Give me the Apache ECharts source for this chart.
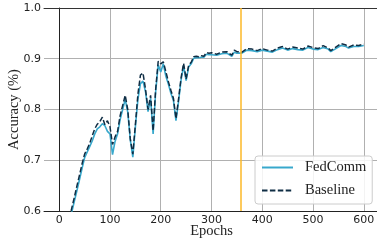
<!DOCTYPE html>
<html>
<head>
<meta charset="utf-8">
<script src="https://cdn.jsdelivr.net/npm/echarts@6/dist/echarts.min.js"></script>
<style>
  html, body { margin: 0; padding: 0; background: #fff; }
  #chart { width: 377px; height: 244px; }
</style>
</head>
<body>
<div id="chart"></div>
<script>
// values
const epochs = [20, 25, 30, 35, 40, 45, 50, 55, 60, 65, 70, 75, 80, 85, 90, 95, 100,
    105, 110, 115, 120, 125, 130, 135, 140, 145, 150, 155, 160, 165, 170, 175, 180,
    185, 190, 195, 200, 205, 210, 215, 220, 225, 230, 235, 240, 245, 250, 255, 260,
    265, 270, 275, 280, 285, 290, 295, 300, 310, 320, 330, 340, 345, 350, 360, 370,
    380, 390, 400, 410, 420, 430, 440, 450, 460, 470, 480, 490, 500, 510, 520, 530,
    535, 545, 555, 565, 570, 580, 590, 600];

const fedcomm = [0.578, 0.599, 0.620, 0.641, 0.662, 0.684, 0.705, 0.716, 0.727, 0.738,
    0.752, 0.762, 0.766, 0.772, 0.768, 0.757, 0.752, 0.711, 0.737, 0.752, 0.780, 0.800,
    0.820, 0.795, 0.740, 0.706, 0.765, 0.820, 0.851, 0.856, 0.835, 0.796, 0.822, 0.752,
    0.835, 0.888, 0.874, 0.890, 0.866, 0.850, 0.832, 0.818, 0.778, 0.815, 0.858, 0.886,
    0.857, 0.884, 0.890, 0.901, 0.902, 0.902, 0.903, 0.903, 0.909, 0.908, 0.908, 0.907,
    0.910, 0.911, 0.905, 0.913, 0.911, 0.911, 0.917, 0.916, 0.914, 0.917, 0.915, 0.913,
    0.918, 0.921, 0.917, 0.920, 0.918, 0.917, 0.922, 0.919, 0.918, 0.922, 0.919, 0.914,
    0.920, 0.926, 0.924, 0.921, 0.924, 0.924, 0.926];

const baseline = [0.585, 0.607, 0.628, 0.650, 0.671, 0.693, 0.712, 0.722, 0.733, 0.748,
    0.762, 0.771, 0.776, 0.785, 0.770, 0.778, 0.766, 0.731, 0.746, 0.757, 0.788, 0.808,
    0.828, 0.800, 0.742, 0.712, 0.770, 0.830, 0.868, 0.872, 0.840, 0.800, 0.828, 0.758,
    0.840, 0.895, 0.890, 0.894, 0.875, 0.855, 0.838, 0.822, 0.782, 0.820, 0.862, 0.891,
    0.860, 0.887, 0.893, 0.904, 0.905, 0.904, 0.906, 0.905, 0.912, 0.911, 0.912, 0.909,
    0.913, 0.914, 0.907, 0.917, 0.914, 0.913, 0.920, 0.919, 0.916, 0.920, 0.917, 0.915,
    0.921, 0.924, 0.919, 0.923, 0.921, 0.919, 0.925, 0.922, 0.920, 0.926, 0.921, 0.916,
    0.923, 0.930, 0.927, 0.923, 0.927, 0.926, 0.929];

const xTicks = [0, 100, 200, 300, 400, 500, 600];
const switchEpoch = 358;

const tickFont = { fontFamily: "DejaVu Sans", fontSize: 11, color: "#222" };
const serif = "Liberation Serif";

const zip = (xs, ys) => xs.map((x, i) => [x, ys[i]]);

const chart = echarts.init(document.getElementById("chart"), null, { renderer: "canvas" });
chart.setOption({
    animation: false,
    backgroundColor: "#fff",
    grid: { left: 44, top: 8, right: -2, bottom: 33, outerBoundsMode: "none", containLabel: false },
    xAxis: [{
        type: "value",
        min: -30,
        max: 630,
        name: "Epochs",
        nameLocation: "middle",
        nameGap: 13,
        nameMoveOverlap: false,
        nameTextStyle: { fontFamily: serif, fontSize: 14.5, color: "#222" },
        axisLine: { show: true, onZero: false, lineStyle: { color: "#222", width: 1 } },
        axisTick: { show: false, customValues: xTicks },
        axisLabel: Object.assign({ margin: 4, customValues: xTicks }, tickFont),
        splitLine: { show: true, lineStyle: { color: "#b0b0b0", width: 1 } }
    }, {
        type: "value",
        position: "top",
        min: -30,
        max: 630,
        axisLine: { show: true, lineStyle: { color: "#333", width: 1 } },
        axisTick: { show: false },
        axisLabel: { show: false },
        splitLine: { show: false }
    }],
    yAxis: {
        type: "value",
        min: 0.6,
        max: 1.0,
        interval: 0.1,
        name: "Accuracy (%)",
        nameLocation: "middle",
        nameGap: 22,
        nameMoveOverlap: false,
        nameTextStyle: { fontFamily: serif, fontSize: 14.5, color: "#222" },
        axisLine: { show: true, lineStyle: { color: "#222", width: 1 } },
        axisTick: { show: false },
        axisLabel: Object.assign({ margin: 3, formatter: v => v.toFixed(1) }, tickFont),
        splitLine: { show: true, lineStyle: { color: "#b0b0b0", width: 1 } }
    },
    legend: {
        orient: "vertical",
        left: 255,
        top: 156,
        padding: [4, 6, 6, 6],
        itemWidth: 31,
        itemHeight: 14,
        itemGap: 8,
        backgroundColor: "rgba(255,255,255,0.85)",
        borderColor: "#cccccc",
        borderWidth: 1,
        borderRadius: 3,
        itemStyle: { color: "rgba(0,0,0,0)", borderWidth: 0 },
        textStyle: { fontFamily: serif, fontSize: 14.5, color: "#222", padding: [0, 0, 0, 7] },
        data: ["FedComm", "Baseline"]
    },
    series: [{
        name: "FedComm",
        type: "line",
        data: zip(epochs, fedcomm),
        symbol: "none",
        lineStyle: { color: "#38a8cc", width: 1.6 },
        itemStyle: { color: "#38a8cc" },
        z: 2
    }, {
        name: "Baseline",
        type: "line",
        data: zip(epochs, baseline),
        symbol: "none",
        lineStyle: { color: "#0f2d44", width: 1.5, type: [5.5, 2.4] },
        itemStyle: { color: "#0f2d44" },
        z: 3,
        markLine: {
            silent: true,
            symbol: "none",
            label: { show: false },
            lineStyle: { color: "#fdb827", width: 1.5, type: "solid" },
            data: [{ xAxis: switchEpoch }],
            z: 4
        }
    }]
});
</script>
</body>
</html>
